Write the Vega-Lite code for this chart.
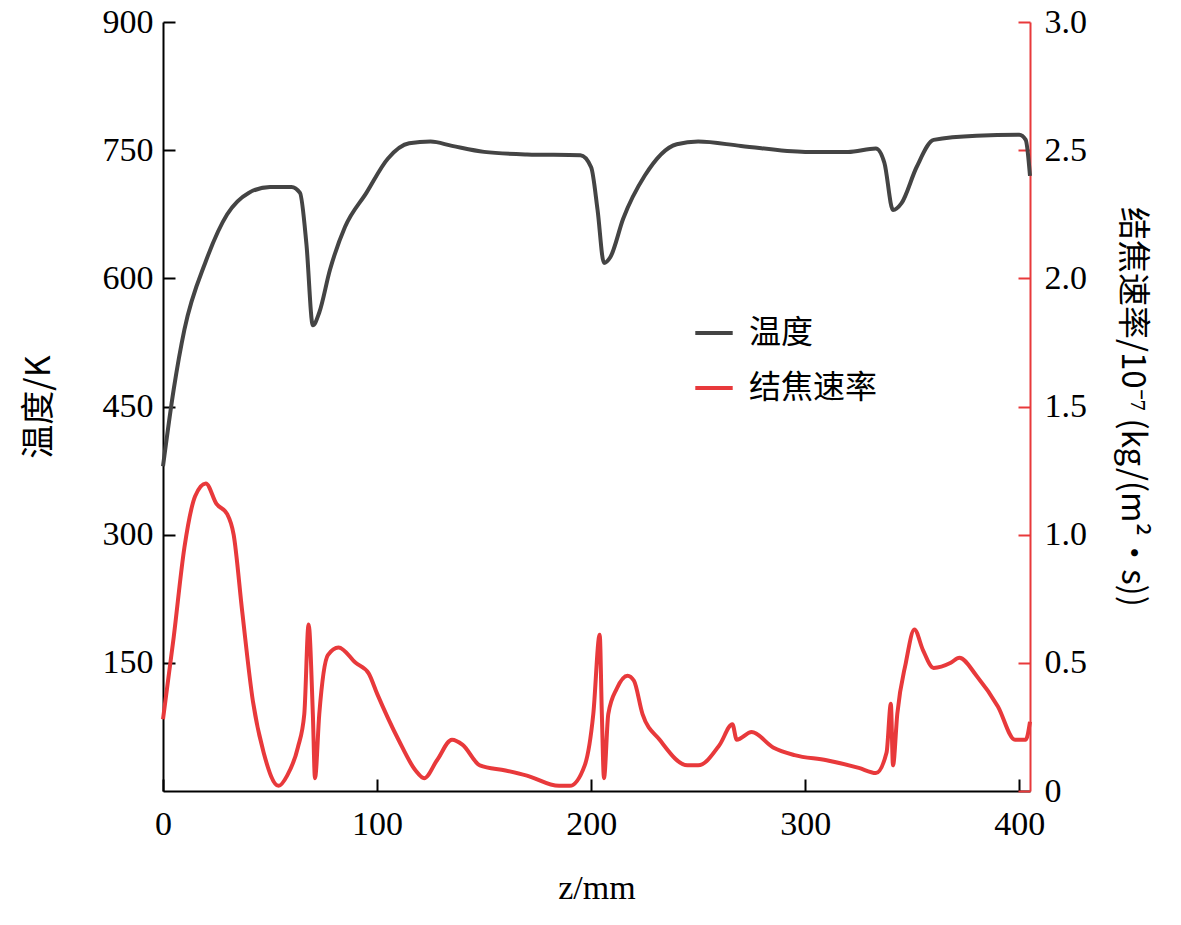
{
  "$schema": "https://vega.github.io/schema/vega-lite/v6.json",
  "autosize": {"type": "none"},
  "width": 867,
  "height": 769,
  "padding": {"left": 163, "top": 22, "right": 151, "bottom": 134},
  "background": "white",
  "datasets": {
    "temp": [
      {"z": 0, "v": 380}, {"z": 5, "v": 470}, {"z": 10, "v": 540}, {"z": 20, "v": 620},
      {"z": 30, "v": 675}, {"z": 40, "v": 700}, {"z": 50, "v": 707}, {"z": 60, "v": 707},
      {"z": 64, "v": 700}, {"z": 67, "v": 640}, {"z": 70, "v": 545}, {"z": 73, "v": 560},
      {"z": 78, "v": 610}, {"z": 85, "v": 660}, {"z": 95, "v": 700}, {"z": 105, "v": 740},
      {"z": 115, "v": 758}, {"z": 125, "v": 760}, {"z": 135, "v": 755}, {"z": 150, "v": 748},
      {"z": 170, "v": 745}, {"z": 195, "v": 744}, {"z": 200, "v": 730}, {"z": 203, "v": 680},
      {"z": 206, "v": 618}, {"z": 209, "v": 625}, {"z": 215, "v": 670}, {"z": 225, "v": 720},
      {"z": 240, "v": 757}, {"z": 250, "v": 760}, {"z": 270, "v": 755}, {"z": 300, "v": 748},
      {"z": 320, "v": 748}, {"z": 333, "v": 752}, {"z": 337, "v": 735}, {"z": 341, "v": 680},
      {"z": 345, "v": 688}, {"z": 352, "v": 730}, {"z": 360, "v": 762}, {"z": 380, "v": 767},
      {"z": 400, "v": 768}, {"z": 403, "v": 762}, {"z": 405, "v": 720}
    ],
    "rate": [
      {"z": 0, "v": 0.28}, {"z": 5, "v": 0.6}, {"z": 10, "v": 0.95}, {"z": 15, "v": 1.15},
      {"z": 20, "v": 1.2}, {"z": 25, "v": 1.12}, {"z": 30, "v": 1.08}, {"z": 33, "v": 1.0},
      {"z": 37, "v": 0.7}, {"z": 42, "v": 0.35}, {"z": 47, "v": 0.15}, {"z": 54, "v": 0.02},
      {"z": 58, "v": 0.06}, {"z": 63, "v": 0.17}, {"z": 66, "v": 0.3}, {"z": 68, "v": 0.65},
      {"z": 70, "v": 0.3}, {"z": 71, "v": 0.05}, {"z": 73, "v": 0.3}, {"z": 77, "v": 0.53},
      {"z": 82, "v": 0.56}, {"z": 90, "v": 0.5}, {"z": 96, "v": 0.46}, {"z": 100, "v": 0.38},
      {"z": 110, "v": 0.2}, {"z": 118, "v": 0.08}, {"z": 122, "v": 0.05}, {"z": 128, "v": 0.12},
      {"z": 135, "v": 0.2}, {"z": 140, "v": 0.18}, {"z": 148, "v": 0.1}, {"z": 160, "v": 0.08},
      {"z": 170, "v": 0.06}, {"z": 185, "v": 0.02}, {"z": 190, "v": 0.02}, {"z": 197, "v": 0.1},
      {"z": 201, "v": 0.3}, {"z": 204, "v": 0.61}, {"z": 205, "v": 0.3}, {"z": 206, "v": 0.05},
      {"z": 208, "v": 0.3}, {"z": 212, "v": 0.4}, {"z": 217, "v": 0.45}, {"z": 220, "v": 0.43},
      {"z": 224, "v": 0.3}, {"z": 232, "v": 0.2}, {"z": 245, "v": 0.1}, {"z": 250, "v": 0.1},
      {"z": 260, "v": 0.18}, {"z": 266, "v": 0.26}, {"z": 268, "v": 0.2}, {"z": 275, "v": 0.23},
      {"z": 285, "v": 0.17}, {"z": 295, "v": 0.14}, {"z": 310, "v": 0.12}, {"z": 325, "v": 0.09},
      {"z": 333, "v": 0.07}, {"z": 338, "v": 0.15}, {"z": 340, "v": 0.34}, {"z": 341, "v": 0.1},
      {"z": 343, "v": 0.3}, {"z": 347, "v": 0.5}, {"z": 351, "v": 0.63}, {"z": 355, "v": 0.55},
      {"z": 360, "v": 0.48}, {"z": 368, "v": 0.5}, {"z": 372, "v": 0.52}, {"z": 380, "v": 0.45},
      {"z": 390, "v": 0.33}, {"z": 398, "v": 0.2}, {"z": 403, "v": 0.2}, {"z": 405, "v": 0.27}
    ]
  },
  "layer": [
    {
      "data": {"name": "temp"},
      "mark": {"type": "line", "strokeWidth": 4, "interpolate": "monotone"},
      "encoding": {
        "x": {"field": "z", "type": "quantitative", "scale": {"domain": [0, 405], "nice": false},
          "axis": {"values": [0, 100, 200, 300, 400], "title": "z/mm", "titlePadding": 30, "labelPadding": 28, "labelFlush": false}},
        "y": {"field": "v", "type": "quantitative", "scale": {"domain": [0, 900], "nice": false},
          "axis": {"values": [150, 300, 450, 600, 750, 900], "title": "温度/K", "titleFont": "Noto Sans CJK SC", "titleFontSize": 34, "titlePadding": 46, "labelPadding": 22}},
        "color": {"datum": "温度", "type": "nominal",
          "scale": {"domain": ["温度", "结焦速率"], "range": ["#444444", "#e8393b"]},
          "legend": {"orient": "none", "legendX": 530, "legendY": 290, "title": null, "symbolType": "stroke",
            "symbolSize": 1400, "symbolStrokeWidth": 4, "labelFont": "Noto Sans CJK SC", "labelFontSize": 32, "rowPadding": 18, "labelOffset": 14}}
      }
    },
    {
      "data": {"name": "rate"},
      "mark": {"type": "line", "strokeWidth": 4, "interpolate": "monotone"},
      "encoding": {
        "x": {"field": "z", "type": "quantitative"},
        "y": {"field": "v", "type": "quantitative", "scale": {"domain": [0, 3], "nice": false},
          "axis": {"orient": "right", "values": [0, 0.5, 1, 1.5, 2, 2.5, 3], "labelPadding": 26, "labelExpr": "datum.value == 0 ? '0' : format(datum.value, '.1f')",
            "title": "结焦速率/10⁻⁷ (kg/(m²·s))", "titleFont": "Noto Sans CJK SC", "titleFontSize": 33, "titleAngle": 90, "titlePadding": 28,
            "domainColor": "#e8393b", "tickColor": "#e8393b"}},
        "color": {"datum": "结焦速率", "type": "nominal"}
      }
    }
  ],
  "resolve": {"scale": {"y": "independent"}},
  "config": {
    "view": {"stroke": null},
    "axis": {
      "labelFont": "Liberation Serif", "labelFontSize": 34, "labelColor": "black",
      "titleFont": "Liberation Serif", "titleFontSize": 34, "titleFontWeight": "normal", "titleColor": "black",
      "domainColor": "black", "domainWidth": 2, "tickColor": "black", "tickWidth": 2, "tickSize": -12,
      "grid": false, "labelPadding": 20, "labelFlush": false
    }
  }
}
